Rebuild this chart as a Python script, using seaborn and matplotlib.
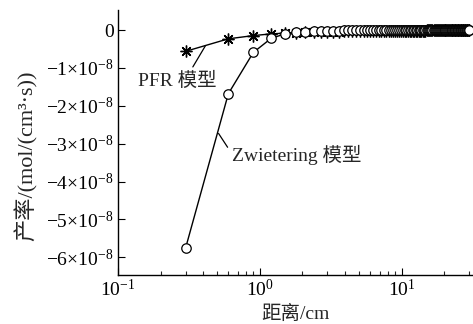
import matplotlib
matplotlib.use("Agg")
import matplotlib.pyplot as plt
import seaborn as sns
import numpy as np
import pandas as pd

# ---- data (rates in units of 1e-8 mol/(cm^3*s)) ----
distance_cm = [
    0.3, 0.6, 0.9, 1.2, 1.5, 1.8, 2.1, 2.4, 2.7, 3.0,
    3.3, 3.6, 3.9, 4.2, 4.5, 4.8, 5.1, 5.4, 5.7, 6.0,
    6.3, 6.6, 6.9, 7.2, 7.5, 7.8, 8.1, 8.4, 8.7, 9.0,
    9.3, 9.6, 9.9, 10.2, 10.5, 10.8, 11.1, 11.4, 11.7, 12.0,
    12.3, 12.6, 12.9, 13.2, 13.5, 13.8, 14.1, 14.4, 14.7, 15.0,
    15.3, 15.6, 15.9, 16.2, 16.5, 16.8, 17.1, 17.4, 17.7, 18.0,
    18.3, 18.6, 18.9, 19.2, 19.5, 19.8, 20.1, 20.4, 20.7, 21.0,
    21.3, 21.6, 21.9, 22.2, 22.5, 22.8, 23.1, 23.4, 23.7, 24.0,
    24.3, 24.6, 24.9, 25.2, 25.5, 25.8, 26.1, 26.4, 26.7, 27.0,
    27.3, 27.6, 27.9, 28.2, 28.5, 28.8, 29.1, 29.4, 29.7, 30.0,
]
pfr_rate = [
    -0.56, -0.23, -0.145, -0.10, -0.08, -0.07, -0.06, -0.055, -0.05, -0.045,
    -0.042, -0.039, -0.036, -0.034, -0.032, -0.030, -0.028, -0.027, -0.026, -0.025,
    -0.024, -0.023, -0.022, -0.021, -0.020, -0.019, -0.019, -0.018, -0.018, -0.017,
    -0.017, -0.016, -0.016, -0.015, -0.015, -0.014, -0.014, -0.014, -0.013, -0.013,
    -0.013, -0.012, -0.012, -0.012, -0.012, -0.011, -0.011, -0.011, -0.011, -0.010,
    -0.010, -0.010, -0.010, -0.010, -0.009, -0.009, -0.009, -0.009, -0.009, -0.009,
    -0.008, -0.008, -0.008, -0.008, -0.008, -0.008, -0.008, -0.008, -0.008, -0.008,
    -0.008, -0.008, -0.007, -0.007, -0.007, -0.007, -0.007, -0.007, -0.007, -0.007,
    -0.007, -0.007, -0.007, -0.007, -0.007, -0.007, -0.006, -0.006, -0.006, -0.006,
    -0.006, -0.006, -0.006, -0.006, -0.006, -0.006, -0.006, -0.006, -0.006, -0.006,
]
zwietering_rate = [
    -5.75, -1.68, -0.59, -0.22, -0.10, -0.06, -0.04, -0.03, -0.02, -0.02,
    -0.015, -0.012, -0.010, -0.008, -0.007, -0.006, -0.005, -0.004, -0.004, -0.003,
    -0.003, -0.003, -0.002, -0.002, -0.002, -0.002, -0.002, -0.002, -0.001, -0.001,
    -0.001, -0.001, -0.001, -0.001, -0.001, -0.001, -0.001, -0.001, -0.001, -0.001,
    -0.001, -0.001, -0.001, -0.001, -0.001, -0.001, -0.001, -0.001, -0.001, -0.001,
    0.0, 0.0, 0.0, 0.0, 0.0, 0.0, 0.0, 0.0, 0.0, 0.0,
    0.0, 0.0, 0.0, 0.0, 0.0, 0.0, 0.0, 0.0, 0.0, 0.0,
    0.0, 0.0, 0.0, 0.0, 0.0, 0.0, 0.0, 0.0, 0.0, 0.0,
    0.0, 0.0, 0.0, 0.0, 0.0, 0.0, 0.0, 0.0, 0.0, 0.0,
    0.0, 0.0, 0.0, 0.0, 0.0, 0.0, 0.0, 0.0, 0.0, 0.0,
]
y_tick_values = [0, -1, -2, -3, -4, -5, -6]
y_tick_labels = ["0", r"$-1{\times}10^{-8}$", r"$-2{\times}10^{-8}$", r"$-3{\times}10^{-8}$",
                 r"$-4{\times}10^{-8}$", r"$-5{\times}10^{-8}$", r"$-6{\times}10^{-8}$"]
x_label = "距离/cm"
y_label = "产率/(mol/(cm³·s))"
pfr_label = "PFR 模型"
zw_label = "Zwietering 模型"

scale = 1e-8
df = pd.DataFrame({
    "distance": distance_cm,
    "pfr": np.array(pfr_rate) * scale,
    "zw": np.array(zwietering_rate) * scale,
})

sns.set_style("ticks")
fam = ["Liberation Serif", "Noto Sans CJK SC", "DejaVu Sans"]
plt.rcParams["font.family"] = fam
plt.rcParams["mathtext.fontset"] = "custom"
plt.rcParams["mathtext.rm"] = "Liberation Serif"
plt.rcParams["mathtext.it"] = "Liberation Serif:italic"
plt.rcParams["mathtext.bf"] = "Liberation Serif:bold"
plt.rcParams["axes.unicode_minus"] = True

FS = 14

fig = plt.figure(figsize=(4.73, 3.24), dpi=100)
ax = fig.add_axes([0.2495, 0.151, 0.7505, 0.818])

sns.lineplot(data=df, x="distance", y="pfr", ax=ax, color="black", linewidth=1.0,
             marker=(8, 2, 0), markersize=8.5, markeredgewidth=1.0,
             markeredgecolor="black", markerfacecolor="black", zorder=2)
sns.lineplot(data=df, x="distance", y="zw", ax=ax, color="black", linewidth=1.0,
             marker="o", markersize=6.8, markeredgewidth=0.9,
             markeredgecolor="black", markerfacecolor="white", zorder=3)

ax.set_xscale("log")
ax.set_xlim(0.1, 31.9)
ax.set_ylim(-6.47e-8, 0.53e-8)
ax.set_yticks([v * scale for v in y_tick_values])
ax.set_yticklabels(y_tick_labels)

ax.tick_params(axis="both", which="major", direction="in", length=5, width=0.8,
               labelsize=FS, colors="black", pad=3)
ax.tick_params(axis="x", which="minor", direction="in", length=3, width=0.8)
sns.despine(ax=ax)
for s in ["left", "bottom"]:
    ax.spines[s].set_linewidth(1.0)
    ax.spines[s].set_color("black")

ax.set_xlabel(x_label, fontsize=FS, labelpad=3)
ax.set_ylabel(y_label, fontsize=16, labelpad=2)
ax.yaxis.set_label_coords(-0.225, 0.45)

ax.annotate(pfr_label, xy=(0.414, -0.41e-8), xytext=(0.139, -1.33e-8),
            fontsize=FS, va="center", ha="left",
            arrowprops=dict(arrowstyle="-", color="black", lw=0.9,
                            shrinkA=1, shrinkB=0, relpos=(0.66, 1.0)))
ax.annotate(zw_label, xy=(0.512, -2.73e-8), xytext=(0.633, -3.31e-8),
            fontsize=FS, va="center", ha="left",
            arrowprops=dict(arrowstyle="-", color="black", lw=0.9,
                            shrinkA=1, shrinkB=0, relpos=(0.0, 0.6)))

fig.savefig("out.png", dpi=100)
